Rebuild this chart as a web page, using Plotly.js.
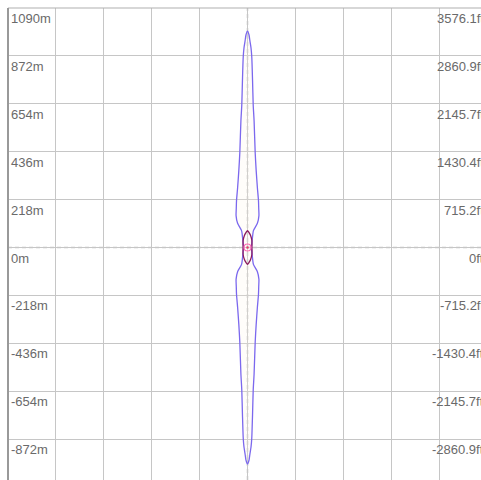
<!DOCTYPE html>
<html>
<head>
<meta charset="utf-8">
<script src="https://cdn.plot.ly/plotly-3.0.1.min.js"></script>
<style>
html,body{margin:0;padding:0;overflow:hidden;background:#fff;}
#chart{width:495px;height:495px;}
</style>
</head>
<body>
<div id="chart"></div>
<script>
// Tick values (metres) and matching labels
const tickMeters = [1090, 872, 654, 436, 218, 0, -218, -436, -654, -872];
const meterLabels = ["1090m","872m","654m","436m","218m","0m","-218m","-436m","-654m","-872m"];
const feetLabels = ["3576.1ft","2860.9ft","2145.7ft","1430.4ft","715.2ft","0ft","-715.2ft","-1430.4ft","-2145.7ft","-2860.9ft"];

// Main (purple) lobe: half-width (m) vs distance from centre (m), upper quadrant, centre -> tip
const mainLobeDist  = [0, 40, 77, 110, 145, 180, 213, 272, 350, 431, 577, 649, 760, 867, 908, 940, 967, 985];
const mainLobeHalfW = [18, 22, 27, 45, 52, 51, 50, 45, 39.5, 35, 30, 26, 23, 19.5, 16, 11, 7, 0];

// Inner (dark red) lobe
const innerLobeDist  = [0, 15, 32, 55, 68, 77];
const innerLobeHalfW = [20, 20.5, 20, 14, 7, 0];

// Centre source
const centreX = [0];
const centreY = [0];

function closedShape(dist, halfW) {
  const xs = [], ys = [];
  const n = dist.length;
  for (let i = n - 1; i >= 0; i--) { xs.push(halfW[i]); ys.push(dist[i]); }
  for (let i = 1; i < n; i++) { xs.push(halfW[i]); ys.push(-dist[i]); }
  for (let i = n - 2; i >= 0; i--) { xs.push(-halfW[i]); ys.push(-dist[i]); }
  for (let i = 1; i < n; i++) { xs.push(-halfW[i]); ys.push(dist[i]); }
  return {x: xs, y: ys};
}

const main = closedShape(mainLobeDist, mainLobeHalfW);
const inner = closedShape(innerLobeDist, innerLobeHalfW);

const traces = [
  {x: main.x, y: main.y, mode: 'lines', type: 'scatter', fill: 'toself',
   fillcolor: 'rgba(255,245,230,0.2)', line: {color: '#7b68ee', width: 1.3, shape: 'spline', smoothing: 0.6},
   hoverinfo: 'skip'},
  {x: inner.x, y: inner.y, mode: 'lines', type: 'scatter',
   line: {color: '#8b1a5e', width: 1.3, shape: 'spline', smoothing: 0.6}, hoverinfo: 'skip'},
  {x: centreX, y: centreY, mode: 'markers', type: 'scatter',
   marker: {symbol: 'circle-open', size: 7, color: '#ff69b4', line: {width: 1.2, color: '#ff69b4'}}, hoverinfo: 'skip'},
  {x: centreX, y: centreY, mode: 'markers', type: 'scatter',
   marker: {symbol: 'circle', size: 2.5, color: '#e0406e'}, hoverinfo: 'skip'}
];

const annotations = [];
tickMeters.forEach((v, i) => {
  annotations.push({xref: 'paper', yref: 'y', x: 0, y: v, text: meterLabels[i], showarrow: false,
    xanchor: 'left', yanchor: 'top', xshift: 1, yshift: -1,
    font: {family: 'Liberation Sans, Arial, sans-serif', size: 13, color: '#6a6a6a'}});
  annotations.push({xref: 'paper', yref: 'y', x: 1, y: v, text: feetLabels[i], showarrow: false,
    xanchor: 'right', yanchor: 'top', xshift: -1, yshift: -1,
    font: {family: 'Liberation Sans, Arial, sans-serif', size: 13, color: '#6a6a6a'}});
});

const layout = {
  width: 495, height: 495,
  margin: {l: 8, r: 8, t: 8, b: 8, pad: 0},
  paper_bgcolor: '#fff', plot_bgcolor: '#fff',
  showlegend: false,
  xaxis: {range: [-1090, 1090], tick0: 0, dtick: 218, showgrid: true, gridcolor: '#c6c6c6', gridwidth: 1,
          zeroline: false, showticklabels: false, ticks: '', showline: false, fixedrange: true},
  yaxis: {range: [-1090, 1090], tick0: 0, dtick: 218, showgrid: true, gridcolor: '#c6c6c6', gridwidth: 1,
          zeroline: false, showticklabels: false, ticks: '', showline: false, fixedrange: true},
  shapes: [
    {type: 'line', xref: 'paper', yref: 'paper', x0: 0, x1: 1, y0: 1, y1: 1, line: {color: '#b0b0b0', width: 1.2}},
    {type: 'line', xref: 'paper', yref: 'paper', x0: 0, x1: 0, y0: 0, y1: 1, line: {color: '#999', width: 2}},
    {type: 'line', xref: 'x', yref: 'paper', x0: 0, x1: 0, y0: 0, y1: 1, layer: 'below', line: {color: '#c8c8c8', width: 1.5, dash: '4px,3px'}},
    {type: 'line', xref: 'paper', yref: 'y', x0: 0, x1: 1, y0: 0, y1: 0, layer: 'below', line: {color: '#c8c8c8', width: 1.5, dash: '4px,3px'}}
  ],
  annotations: annotations
};

Plotly.newPlot('chart', traces, layout, {displayModeBar: false, staticPlot: true});
</script>
</body>
</html>
